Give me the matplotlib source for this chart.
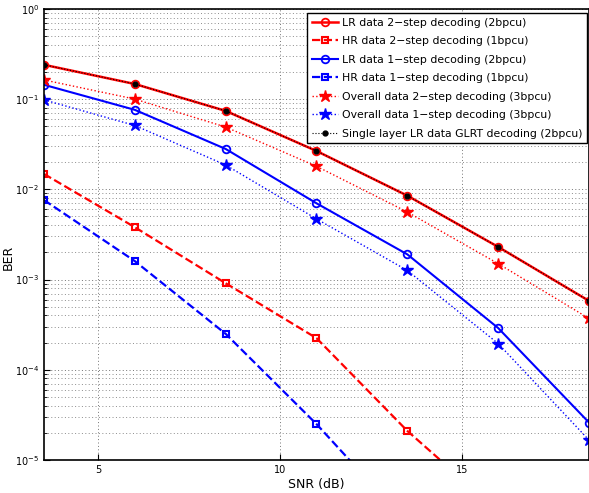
import numpy as np
import matplotlib.pyplot as plt
from matplotlib.ticker import LogLocator, NullFormatter

# SNR points (dB)
snr = [3.5, 6, 8.5, 11, 13.5, 16, 18.5]

# BER values
lr_2step = [0.24, 0.147, 0.074, 0.0266, 0.0085, 0.0023, 0.00058]
hr_2step = [0.0148, 0.0038, 0.00091, 0.000224, 2.1e-5, 2.7e-6, 3e-7]
lr_1step = [0.144, 0.076, 0.028, 0.0070, 0.0019, 0.00029, 2.6e-5]
hr_1step = [0.0076, 0.0016, 0.00025, 2.5e-5, 2.0e-6, 1.5e-7, 1e-8]
all_2step = [0.163, 0.100, 0.049, 0.018, 0.0056, 0.0015, 0.00037]
all_1step = [0.098, 0.051, 0.0186, 0.0047, 0.00126, 0.000195, 1.66e-5]
glrt = [0.24, 0.147, 0.074, 0.0266, 0.0085, 0.0023, 0.00058]

labels = ['LR data 2\u2212step decoding (2bpcu)',
          'HR data 2\u2212step decoding (1bpcu)',
          'LR data 1\u2212step decoding (2bpcu)',
          'HR data 1\u2212step decoding (1bpcu)',
          'Overall data 2\u2212step decoding (3bpcu)',
          'Overall data 1\u2212step decoding (3bpcu)',
          'Single layer LR data GLRT decoding (2bpcu)']

def main():
    fig = plt.figure(figsize=(5.89, 4.93), dpi=100)
    ax = fig.add_axes([0.0747, 0.067, 0.9253, 0.915])

    ax.semilogy(snr, lr_2step, 'r-o', lw=1.8, ms=5.5, mfc='none', mew=1.3, label=labels[0])
    ax.semilogy(snr, hr_2step, 'r--s', lw=1.6, ms=4.5, mfc='none', mew=1.5, label=labels[1])
    ax.semilogy(snr, lr_1step, 'b-o', lw=1.5, ms=5.5, mfc='none', mew=1.3, label=labels[2])
    ax.semilogy(snr, hr_1step, 'b--s', lw=1.6, ms=4.5, mfc='none', mew=1.5, label=labels[3])
    ax.semilogy(snr, all_2step, 'r:*', lw=1.0, ms=9, label=labels[4])
    ax.semilogy(snr, all_1step, 'b:*', lw=1.0, ms=9, label=labels[5])
    ax.semilogy(snr, glrt, 'k:.', lw=0.8, ms=7, label=labels[6])

    ax.set_xlim(3.5, 18.5)
    ax.set_ylim(1e-5, 1)
    ax.set_xticks([5, 10, 15])
    ax.yaxis.set_major_locator(LogLocator(base=10, numticks=10))
    ax.yaxis.set_minor_locator(LogLocator(base=10, subs=np.arange(2, 10), numticks=10))
    ax.yaxis.set_minor_formatter(NullFormatter())
    ax.tick_params(which='both', direction='in', labelsize=7)
    ax.tick_params(which='major', length=4)
    ax.tick_params(which='minor', length=2)
    ax.grid(True, which='major', ls=(0, (1, 2.5)), color='0.45', lw=0.7)
    ax.grid(True, which='minor', axis='y', ls=(0, (1, 2.5)), color='0.55', lw=0.7)
    for s in ax.spines.values():
        s.set_linewidth(1.2)

    ax.set_xlabel('SNR (dB)', fontsize=9, labelpad=2)
    ax.set_ylabel('BER', fontsize=9)
    ax.yaxis.set_label_coords(-0.054, 0.45)

    leg = ax.legend(loc='upper right', fontsize=7.8, handlelength=2.4, handletextpad=0.3,
                    borderpad=0.45, labelspacing=0.78, fancybox=False, framealpha=1,
                    edgecolor='black', borderaxespad=0,
                    bbox_to_anchor=(0.9963, 0.991))
    leg.get_frame().set_linewidth(1.0)

    fig.savefig('out.png', dpi=100)

if __name__ == '__main__':
    main()
